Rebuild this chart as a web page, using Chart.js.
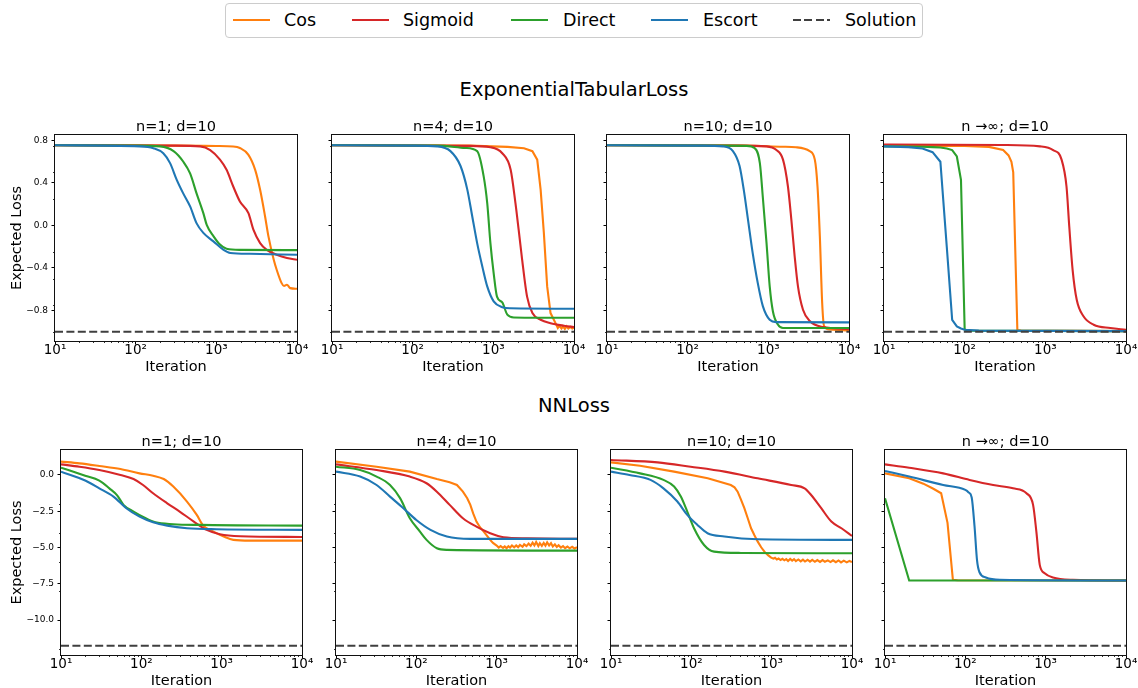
<!DOCTYPE html>
<html lang="en">
<head>
<meta charset="utf-8">
<title>ExponentialTabularLoss / NNLoss</title>
<script src="https://cdn.jsdelivr.net/npm/chart.js@4.4.1/dist/chart.umd.min.js"></script>
<style>
  html, body { margin: 0; padding: 0; background: #fff; }
  body { position: relative; width: 1138px; height: 688px; overflow: hidden; font-family: "DejaVu Sans", sans-serif; color: #000; }
  #legend { position: absolute; left: 225px; top: 3px; width: 698px; height: 35px; border: 1px solid #cccccc; border-radius: 4px; box-sizing: border-box; }
  .key { position: absolute; top: 19px; width: 37px; height: 0; border-top: 2.1px solid; }
  .key.dashed { border-top: none; height: 2.1px; top: 19px; background: repeating-linear-gradient(to right, #3f3f3f 0 8px, transparent 8px 11.4px); }
  .name { position: absolute; top: 10px; font-size: 17.5px; line-height: 20px; white-space: nowrap; }
  .section { position: absolute; left: 274px; width: 600px; text-align: center; font-size: 19.5px; line-height: 24px; }
  canvas { position: absolute; }
</style>
</head>
<body>
<div id="legend"></div>
<div class="key" style="left:233px;border-color:#ff7f0e"></div><div class="name" style="left:284px">Cos</div>
<div class="key" style="left:352px;border-color:#d62728"></div><div class="name" style="left:403px">Sigmoid</div>
<div class="key" style="left:511px;border-color:#2ca02c"></div><div class="name" style="left:563px">Direct</div>
<div class="key" style="left:651px;border-color:#1f77b4"></div><div class="name" style="left:703px">Escort</div>
<div class="key dashed" style="left:793px"></div><div class="name" style="left:845px">Solution</div>
<div class="section" style="top:78px">ExponentialTabularLoss</div>
<div class="section" style="top:394px">NNLoss</div>

<script>
// ---- axis ticks ----
const ITER_TICKS = [10, 100, 1000, 10000];
const ITER_TICK_LABELS = ['10\u00b9', '10\u00b2', '10\u00b3', '10\u2074'];
const TAB_TICKS = [-0.8, -0.4, 0, 0.4, 0.8];
const TAB_TICK_LABELS = ['\u22120.8', '\u22120.4', '0.0', '0.4', '0.8'];
const TAB_MINOR = [-1.0, -0.75, -0.5, -0.25, 0.25, 0.5, 0.75];
const NN_TICKS = [-10, -7.5, -5, -2.5, 0];
const NN_TICK_LABELS = ['\u221210.0', '\u22127.5', '\u22125.0', '\u22122.5', '0.0'];
const NN_MINOR = [-12, -8, -6, -4, -2];

// ---- ExponentialTabularLoss: [iteration, expected loss] ----
const tab1Cos = [[10,0.755],[300,0.752],[1000,0.748],[1620,0.744],[1960,0.73],[2500,0.665],[3030,0.524],[3490,0.336],[4020,0.085],[4420,-0.10],[5140,-0.32],[5600,-0.417],[6450,-0.543],[6900,-0.57],[7500,-0.558],[8230,-0.59],[10000,-0.596]];
const tab1Sigmoid = [[10,0.755],[300,0.752],[630,0.745],[840,0.71],[1110,0.62],[1340,0.524],[1620,0.367],[1960,0.226],[2500,0.116],[2880,-0.04],[3490,-0.166],[4220,-0.23],[5600,-0.276],[7500,-0.307],[10000,-0.323]];
const tab1Direct = [[10,0.755],[100,0.752],[200,0.745],[295,0.70],[390,0.60],[473,0.49],[570,0.30],[690,0.116],[760,0.006],[920,-0.10],[1110,-0.18],[1340,-0.22],[2000,-0.23],[10000,-0.232]];
const tab1Escort = [[10,0.755],[113,0.745],[166,0.728],[220,0.68],[267,0.587],[323,0.43],[390,0.30],[473,0.18],[570,0.02],[690,-0.07],[920,-0.15],[1230,-0.23],[1490,-0.26],[2600,-0.267],[10000,-0.276]];

const tab4Cos = [[10,0.755],[500,0.752],[1500,0.74],[2400,0.727],[3050,0.70],[3500,0.62],[3860,0.335],[4230,-0.07],[4650,-0.574],[5120,-0.825],[5900,-0.92],[6300,-0.965],[6600,-0.945],[7000,-0.97],[7300,-0.95],[7700,-0.975],[8100,-0.95],[8500,-0.97],[9000,-0.955],[9500,-0.97],[10000,-0.96]];
const tab4Sigmoid = [[10,0.755],[500,0.75],[920,0.737],[1290,0.68],[1640,0.524],[1880,0.21],[2060,-0.04],[2250,-0.29],[2620,-0.67],[3050,-0.825],[3860,-0.888],[5120,-0.92],[7500,-0.944],[10000,-0.957]];
const tab4Direct = [[10,0.755],[200,0.752],[450,0.73],[630,0.70],[760,0.46],[840,0.21],[920,-0.166],[1010,-0.45],[1110,-0.67],[1290,-0.725],[1490,-0.84],[1800,-0.866],[10000,-0.869]];
const tab4Escort = [[10,0.755],[100,0.752],[200,0.745],[294,0.70],[392,0.56],[475,0.34],[548,0.085],[630,-0.166],[730,-0.386],[840,-0.574],[1010,-0.715],[1290,-0.77],[1640,-0.78],[10000,-0.784]];

const tab10Cos = [[10,0.755],[500,0.752],[1500,0.742],[2200,0.737],[3260,0.70],[3770,0.62],[4070,0.367],[4350,-0.10],[4650,-0.73],[4920,-0.95],[5800,-0.98],[10000,-0.988]];
const tab10Sigmoid = [[10,0.755],[400,0.752],[950,0.745],[1260,0.71],[1520,0.62],[1750,0.367],[1930,0.053],[2120,-0.29],[2330,-0.574],[2690,-0.794],[3260,-0.90],[4790,-0.957],[10000,-0.976]];
const tab10Direct = [[10,0.755],[300,0.752],[535,0.75],[680,0.727],[785,0.587],[860,0.24],[950,-0.166],[1040,-0.574],[1140,-0.81],[1320,-0.935],[1520,-0.966],[10000,-0.966]];
const tab10Escort = [[10,0.755],[150,0.752],[274,0.745],[364,0.70],[440,0.56],[495,0.34],[560,0.053],[640,-0.26],[740,-0.543],[855,-0.76],[1040,-0.888],[1260,-0.91],[10000,-0.913]];

const tabInfCos = [[10,0.75],[100,0.748],[200,0.74],[300,0.71],[350,0.66],[380,0.60],[400,0.50],[450,-0.985],[500,-0.99],[10000,-0.995]];
const tabInfSigmoid = [[10,0.762],[300,0.758],[860,0.745],[1250,0.71],[1590,0.62],[1830,0.367],[1980,-0.01],[2180,-0.42],[2450,-0.70],[2970,-0.855],[3970,-0.935],[6390,-0.966],[10000,-0.982]];
const tabInfDirect = [[10,0.745],[20,0.744],[30,0.742],[40,0.738],[50,0.735],[60,0.725],[70,0.71],[80,0.65],[90,0.43],[100,-0.98],[110,-0.99],[10000,-0.995]];
const tabInfEscort = [[10,0.745],[20,0.738],[30,0.725],[40,0.69],[50,0.60],[60,-0.20],[70,-0.888],[80,-0.95],[90,-0.97],[100,-0.982],[150,-0.99],[10000,-0.995]];

const tabSolution = [[10,-1.0],[10000,-1.0]];

// ---- NNLoss: [iteration, expected loss] ----
const nn1Cos = [[10,0.92],[17,0.80],[30,0.62],[55,0.41],[95,0.11],[140,-0.05],[190,-0.28],[250,-0.80],[370,-1.83],[490,-2.75],[590,-3.49],[790,-3.9],[1060,-4.24],[1400,-4.47],[2260,-4.52],[10000,-4.52]];
const nn1Sigmoid = [[10,0.73],[17,0.57],[30,0.34],[55,0.0],[80,-0.28],[105,-0.69],[140,-1.26],[210,-1.95],[300,-2.52],[450,-3.21],[650,-3.78],[950,-4.08],[1700,-4.22],[10000,-4.27]];
const nn1Direct = [[10,0.50],[20,-0.05],[30,-0.39],[40,-0.92],[50,-1.40],[60,-2.06],[80,-2.52],[110,-2.94],[150,-3.26],[250,-3.39],[540,-3.44],[10000,-3.49]];
const nn1Escort = [[10,0.23],[20,-0.38],[30,-0.92],[45,-1.49],[65,-2.29],[95,-2.87],[140,-3.26],[210,-3.49],[370,-3.67],[870,-3.74],[10000,-3.78]];

const nn4Cos = [[10,0.92],[32,0.57],[83,0.23],[180,-0.28],[260,-0.50],[320,-0.69],[380,-1.15],[430,-1.6],[470,-2.06],[510,-2.65],[560,-3.21],[620,-3.6],[690,-3.90],[760,-4.2],[830,-4.47],[900,-4.68],[1000,-4.86],[1060,-5.0],[1120,-4.9],[1200,-5.02],[1260,-4.92],[1330,-5.04],[1400,-4.9],[1470,-5.0],[1550,-4.86],[1650,-4.98],[1750,-4.85],[1850,-4.97],[1950,-4.82],[2100,-4.95],[2200,-4.78],[2350,-4.9],[2500,-4.72],[2650,-4.88],[2800,-4.66],[2950,-4.85],[3100,-4.62],[3300,-4.9],[3450,-4.7],[3650,-4.88],[3850,-4.68],[4050,-4.87],[4250,-4.64],[4500,-4.86],[4750,-4.7],[5000,-4.92],[5300,-4.78],[5600,-4.96],[5900,-4.84],[6300,-5.0],[6700,-4.9],[7100,-5.04],[7600,-4.93],[8100,-5.05],[8700,-4.95],[9300,-5.06],[10000,-4.98]];
const nn4Sigmoid = [[10,0.73],[32,0.34],[83,-0.11],[134,-0.57],[180,-1.15],[260,-2.06],[380,-2.98],[560,-3.56],[830,-4.01],[1220,-4.29],[2400,-4.36],[10000,-4.40]];
const nn4Direct = [[10,0.57],[20,0.34],[32,-0.11],[47,-0.69],[63,-1.61],[83,-2.98],[111,-3.90],[134,-4.47],[180,-5.05],[240,-5.16],[10000,-5.21]];
const nn4Escort = [[10,0.23],[20,-0.11],[32,-0.69],[47,-1.49],[69,-2.29],[100,-3.10],[150,-3.78],[240,-4.24],[470,-4.40],[10000,-4.40]];

const nn10Cos = [[10,0.87],[23,0.64],[61,0.23],[160,-0.23],[310,-0.69],[345,-0.85],[377,-1.15],[415,-1.7],[457,-2.29],[505,-3.0],[554,-3.67],[610,-4.15],[671,-4.59],[740,-4.98],[813,-5.28],[900,-5.52],[985,-5.69],[1050,-5.76],[1100,-5.7],[1160,-5.82],[1220,-5.76],[1290,-5.86],[1360,-5.78],[1440,-5.88],[1520,-5.8],[1600,-5.92],[1700,-5.78],[1800,-5.9],[1900,-5.8],[2000,-5.94],[2150,-5.82],[2300,-5.95],[2450,-5.83],[2600,-5.96],[2800,-5.84],[3000,-5.97],[3200,-5.85],[3450,-5.98],[3700,-5.86],[4000,-5.99],[4300,-5.86],[4600,-5.98],[5000,-5.88],[5400,-6.0],[5800,-5.88],[6300,-6.01],[6800,-5.89],[7300,-6.02],[7900,-5.9],[8600,-6.02],[9300,-5.92],[10000,-6.0]];
const nn10Sigmoid = [[10,1.03],[38,0.87],[98,0.57],[260,0.23],[670,-0.23],[1750,-0.69],[2570,-0.92],[3100,-1.38],[4140,-2.29],[5530,-3.21],[7390,-3.67],[10000,-4.20]];
const nn10Direct = [[10,0.50],[23,0.11],[45,-0.34],[61,-0.80],[74,-1.49],[89,-2.52],[108,-3.67],[144,-4.82],[192,-5.28],[415,-5.37],[10000,-5.39]];
const nn10Escort = [[10,0.23],[17,0.0],[31,-0.34],[45,-0.92],[67,-1.83],[89,-2.75],[119,-3.44],[159,-4.01],[258,-4.24],[671,-4.43],[10000,-4.47]];

const nnInfCos = [[10,0.11],[20,-0.23],[30,-0.60],[40,-0.95],[50,-1.26],[60,-3.30],[70,-7.22],[80,-7.25],[10000,-7.27]];
const nnInfSigmoid = [[10,0.73],[20,0.50],[53,0.11],[113,-0.34],[222,-0.69],[392,-0.92],[577,-1.26],[697,-2.06],[766,-3.90],[844,-6.19],[972,-6.77],[1230,-7.06],[2180,-7.22],[10000,-7.27]];
const nnInfDirect = [[10,-1.61],[20,-7.27],[10000,-7.27]];
const nnInfEscort = [[10,0.28],[20,-0.11],[53,-0.69],[100,-1.03],[110,-1.20],[120,-1.55],[130,-3.50],[140,-5.90],[150,-6.70],[180,-7.06],[270,-7.22],[10000,-7.27]];

const nnSolution = [[10,-11.77],[10000,-11.77]];

// Series drawn as plain polylines (sharp corners or step noise); the rest are smoothed.
const STRAIGHT = [tabInfCos, tabInfDirect, tabInfEscort, nnInfCos, nnInfDirect, tab4Cos, nn4Cos, nn10Cos];

// ---- series styling ----
const SERIES = [
  { label: 'Cos',     color: '#ff7f0e', order: 4 },
  { label: 'Sigmoid', color: '#d62728', order: 3 },
  { label: 'Direct',  color: '#2ca02c', order: 2 },
  { label: 'Escort',  color: '#1f77b4', order: 1 }
];

const ROWS = [
  { top: 135, bottom: 341, lefts: [55, 332, 607, 884], width: 242, yW: 55, min: -1.088, max: 0.852,
    ticks: TAB_TICKS, labels: TAB_TICK_LABELS, minor: TAB_MINOR },
  { top: 450, bottom: 655, lefts: [61, 336, 611, 885], width: 241, yW: 61, min: -12.4, max: 1.72,
    ticks: NN_TICKS, labels: NN_TICK_LABELS, minor: NN_MINOR }
];

const PANELS = [
  { row: 0, col: 0, title: 'n=1; d=10',   lines: [tab1Cos, tab1Sigmoid, tab1Direct, tab1Escort], solution: tabSolution },
  { row: 0, col: 1, title: 'n=4; d=10',   lines: [tab4Cos, tab4Sigmoid, tab4Direct, tab4Escort], solution: tabSolution },
  { row: 0, col: 2, title: 'n=10; d=10',  lines: [tab10Cos, tab10Sigmoid, tab10Direct, tab10Escort], solution: tabSolution },
  { row: 0, col: 3, title: 'n \u2192\u221e; d=10', lines: [tabInfCos, tabInfSigmoid, tabInfDirect, tabInfEscort], solution: tabSolution },
  { row: 1, col: 0, title: 'n=1; d=10',   lines: [nn1Cos, nn1Sigmoid, nn1Direct, nn1Escort], solution: nnSolution },
  { row: 1, col: 1, title: 'n=4; d=10',   lines: [nn4Cos, nn4Sigmoid, nn4Direct, nn4Escort], solution: nnSolution },
  { row: 1, col: 2, title: 'n=10; d=10',  lines: [nn10Cos, nn10Sigmoid, nn10Direct, nn10Escort], solution: nnSolution },
  { row: 1, col: 3, title: 'n \u2192\u221e; d=10', lines: [nnInfCos, nnInfSigmoid, nnInfDirect, nnInfEscort], solution: nnSolution }
];

const TITLE_H = 22;   // panel title block above the plot area
const X_H = 35;       // x tick labels + "Iteration"
const RIGHT_PAD = 16; // room for the last x tick label

Chart.defaults.font.family = "'DejaVu Sans', sans-serif";
Chart.defaults.color = '#000';

// Full box around each plot plus the small minor tick marks.
const axisDecor = {
  id: 'axisDecor',
  afterDatasetsDraw(chart, args, opts) {
    const { ctx, chartArea: a, scales: { x, y } } = chart;
    ctx.save();
    ctx.strokeStyle = '#000';
    ctx.lineWidth = 0.8;
    ctx.beginPath();
    for (let e = 1; e < 4; e++) {
      for (let k = 2; k < 10; k++) {
        const px = Math.round(x.getPixelForValue(k * Math.pow(10, e))) + 0.5;
        ctx.moveTo(px, a.bottom);
        ctx.lineTo(px, a.bottom + 2);
      }
    }
    for (const v of opts.minor) {
      const py = Math.round(y.getPixelForValue(v)) + 0.5;
      ctx.moveTo(a.left, py);
      ctx.lineTo(a.left - 2, py);
    }
    ctx.stroke();
    ctx.lineWidth = 1;
    ctx.strokeStyle = '#111';
    ctx.strokeRect(Math.round(a.left) - 0.5, Math.round(a.top) - 0.5,
                   Math.round(a.right - a.left) + 1, Math.round(a.bottom - a.top) + 1);
    ctx.restore();
  }
};

function tickGrid() {
  return { drawOnChartArea: false, drawTicks: true, tickLength: 3.5, tickColor: '#000', tickWidth: 1 };
}

function buildPanel(p) {
  const row = ROWS[p.row];
  const plotLeft = row.lefts[p.col];
  const canvas = document.createElement('canvas');
  const w = row.yW + row.width + RIGHT_PAD;
  const h = TITLE_H + (row.bottom - row.top) + X_H;
  canvas.width = w;
  canvas.height = h;
  canvas.style.left = (plotLeft - row.yW) + 'px';
  canvas.style.top = (row.top - TITLE_H) + 'px';
  document.body.appendChild(canvas);

  const datasets = [{
    label: 'Solution', data: p.solution, borderColor: '#3f3f3f', borderWidth: 2,
    borderDash: [8, 3.4], pointRadius: 0, tension: 0, order: 0
  }];
  p.lines.forEach((data, i) => {
    const s = SERIES[i];
    const straight = STRAIGHT.includes(data);
    datasets.push({
      label: s.label, data, borderColor: s.color, borderWidth: 2.1, pointRadius: 0,
      order: s.order,
      tension: straight ? 0 : 0.4,
      cubicInterpolationMode: straight ? 'default' : 'monotone'
    });
  });

  new Chart(canvas, {
    type: 'line',
    data: { datasets },
    options: {
      responsive: false, animation: false, devicePixelRatio: 1, events: [],
      layout: { padding: { left: 0, top: 0, right: RIGHT_PAD, bottom: 0 } },
      plugins: {
        legend: { display: false },
        tooltip: { enabled: false },
        title: {
          display: true, text: p.title, fullSize: false, color: '#000',
          font: { size: 14.5, weight: 'normal', lineHeight: 1 },
          padding: { top: TITLE_H - 15.5, bottom: 1 }
        },
        axisDecor: { minor: row.minor }
      },
      scales: {
        x: {
          type: 'logarithmic', min: 10, max: 10000, bounds: 'data',
          afterBuildTicks: s => { s.ticks = ITER_TICKS.map(v => ({ value: v, major: true })); },
          ticks: {
            autoSkip: false, maxRotation: 0, padding: -2, color: '#000',
            font: { size: 13.5, lineHeight: 1.2 },
            callback: v => ITER_TICK_LABELS[ITER_TICKS.indexOf(v)]
          },
          grid: tickGrid(),
          border: { display: false },
          title: { display: true, text: 'Iteration', color: '#000',
                   font: { size: 14.5, lineHeight: 1.2 }, padding: { top: 0, bottom: 0 } },
          afterFit: s => { s.height = X_H; s.paddingLeft = 0; s.paddingRight = 0; }
        },
        y: {
          type: 'linear', min: row.min, max: row.max, bounds: 'data',
          afterBuildTicks: s => { s.ticks = row.ticks.map(v => ({ value: v })); },
          ticks: {
            display: p.col === 0, padding: 3.5, color: '#000', font: { size: 9 },
            callback: v => row.labels[row.ticks.indexOf(v)]
          },
          grid: tickGrid(),
          border: { display: false },
          title: { display: p.col === 0, text: 'Expected Loss', color: '#000',
                   font: { size: 14.5, lineHeight: 1.2 }, padding: { top: 8.5, bottom: 0 } },
          afterFit: s => { s.width = row.yW; s.paddingTop = 0; s.paddingBottom = 0; }
        }
      }
    },
    plugins: [axisDecor]
  });
}

PANELS.forEach(buildPanel);
</script>
</body>
</html>
